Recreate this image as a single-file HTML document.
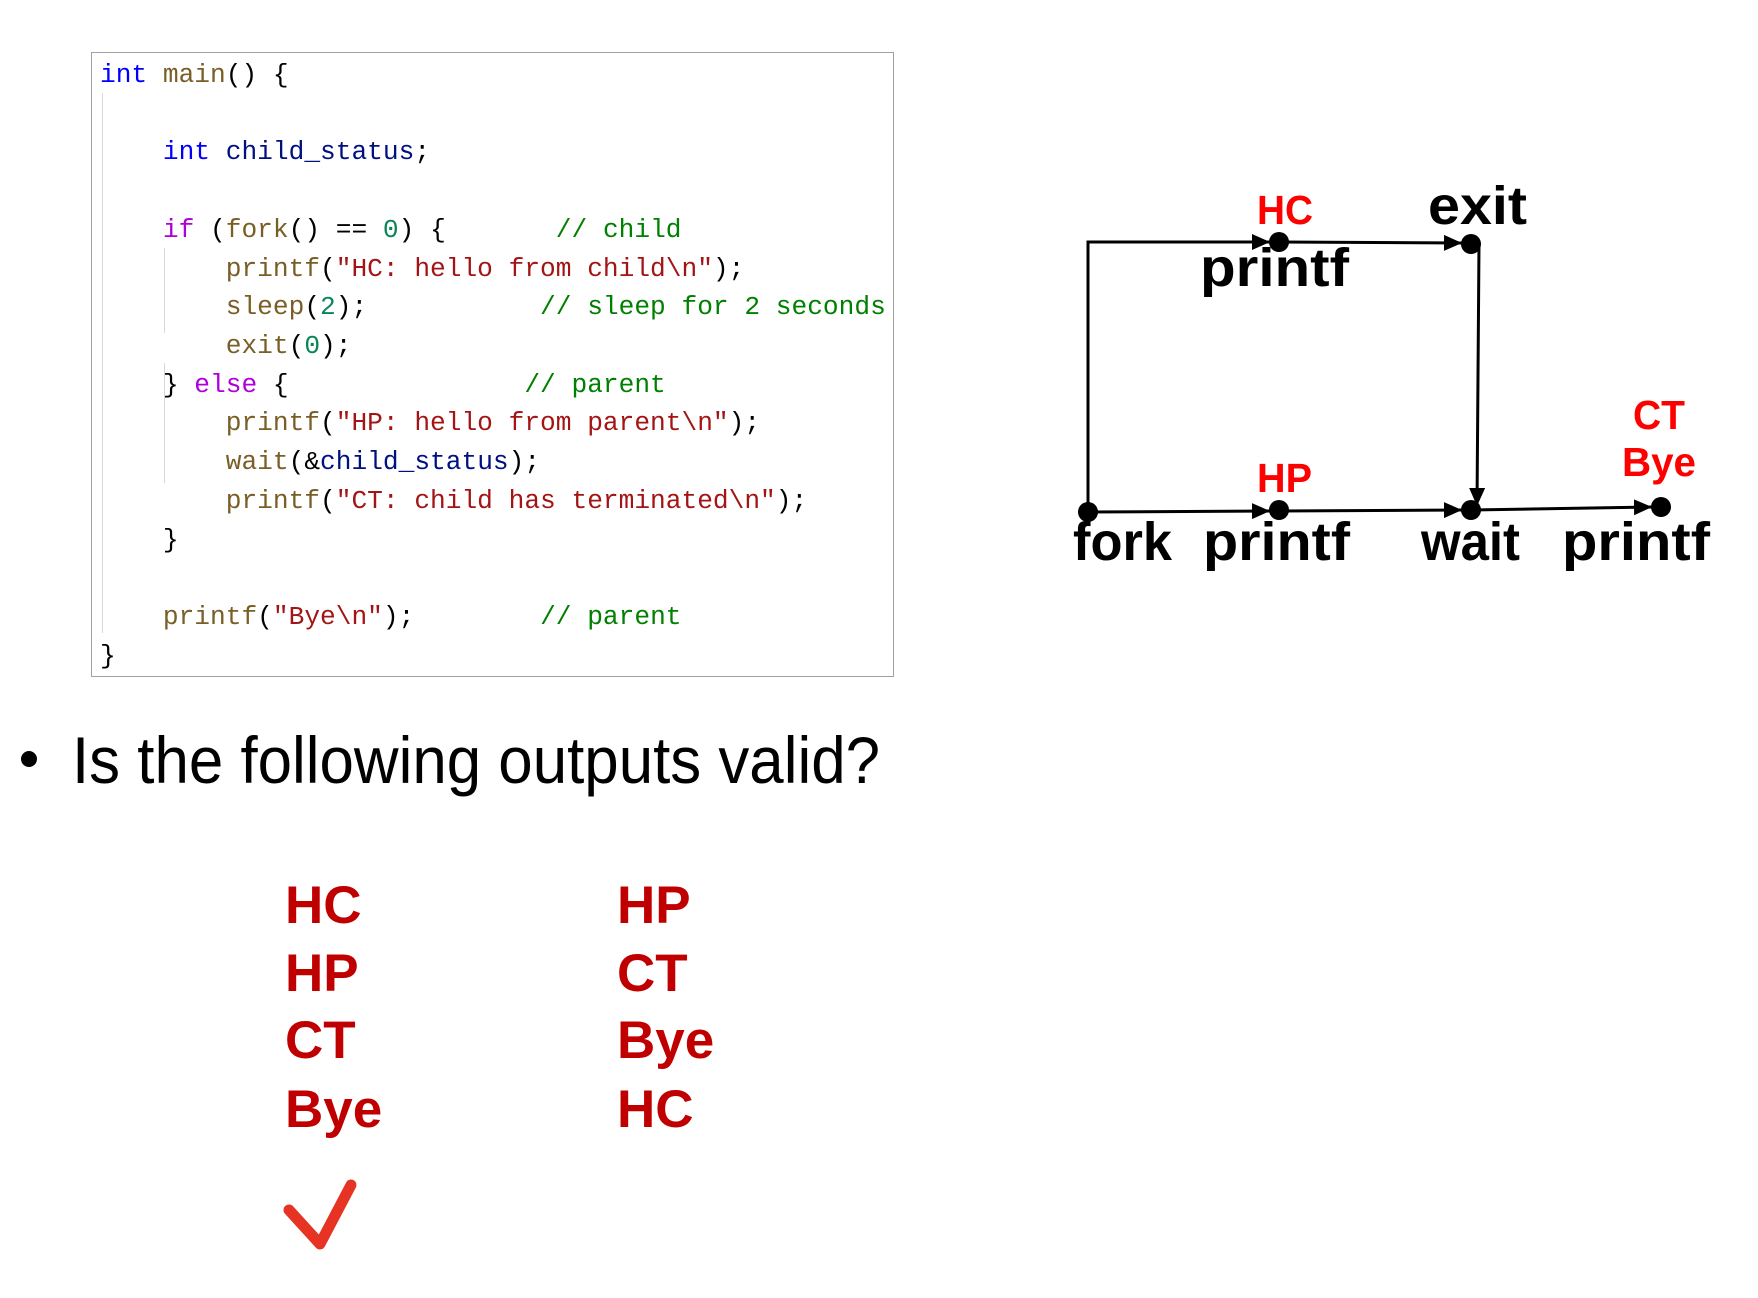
<!DOCTYPE html>
<html><head><meta charset="utf-8"><style>
html,body{margin:0;padding:0;background:#fff;}
body{width:1758px;height:1298px;position:relative;overflow:hidden;}
.code{position:absolute;left:91px;top:52px;width:803px;height:625px;border:1.5px solid #a0a0a0;box-sizing:border-box;}
.ln{position:absolute;left:8px;font-family:"Liberation Mono",monospace;font-size:26.2px;white-space:pre;line-height:30px;color:#000;}
.k{color:#0000ff}.f{color:#795e26}.s{color:#a31515}.c{color:#008000}.n{color:#098658}.p{color:#af00db}.v{color:#001080}
.g{position:absolute;width:1px;background:#d8d8d8;}
</style></head><body>
<div class="code">
<div class="g" style="left:10px;top:40px;height:540px"></div>
<div class="g" style="left:72px;top:195px;height:85px"></div>
<div class="g" style="left:72px;top:310px;height:120px"></div>
<div class="ln" style="top:7px"><span class="k">int</span> <span class="f">main</span>() {</div>
<div class="ln" style="top:84px">    <span class="k">int</span> <span class="v">child_status</span>;</div>
<div class="ln" style="top:162px">    <span class="p">if</span> (<span class="f">fork</span>() == <span class="n">0</span>) {       <span class="c">// child</span></div>
<div class="ln" style="top:201px">        <span class="f">printf</span>(<span class="s">"HC: hello from child\n"</span>);</div>
<div class="ln" style="top:239px">        <span class="f">sleep</span>(<span class="n">2</span>);           <span class="c">// sleep for 2 seconds</span></div>
<div class="ln" style="top:278px">        <span class="f">exit</span>(<span class="n">0</span>);</div>
<div class="ln" style="top:317px">    } <span class="p">else</span> {               <span class="c">// parent</span></div>
<div class="ln" style="top:355px">        <span class="f">printf</span>(<span class="s">"HP: hello from parent\n"</span>);</div>
<div class="ln" style="top:394px">        <span class="f">wait</span>(&amp;<span class="v">child_status</span>);</div>
<div class="ln" style="top:433px">        <span class="f">printf</span>(<span class="s">"CT: child has terminated\n"</span>);</div>
<div class="ln" style="top:472px">    }</div>
<div class="ln" style="top:549px">    <span class="f">printf</span>(<span class="s">"Bye\n"</span>);        <span class="c">// parent</span></div>
<div class="ln" style="top:588px">}</div>
</div>
<svg width="1758" height="1298" style="position:absolute;left:0;top:0">
<defs>
<marker id="b" markerWidth="18" markerHeight="16" refX="18" refY="8" orient="auto" markerUnits="userSpaceOnUse"><path d="M0,0 L18,8 L0,16 z" fill="#000"/></marker></defs>
<g stroke="#000" stroke-width="3" fill="none">
<path d="M1088,512 L1088,242 L1270,242" marker-end="url(#b)"/>
<path d="M1279,242 L1462,243" marker-end="url(#b)"/>
<path d="M1088,512 L1270,511" marker-end="url(#b)"/>
<path d="M1279,511 L1462,510" marker-end="url(#b)"/>
<path d="M1479,244 L1477,506" marker-end="url(#b)"/>
<path d="M1471,510 L1652,507" marker-end="url(#b)"/>
</g>
<g fill="#000"><circle cx="1088" cy="512" r="10"/><circle cx="1279" cy="242" r="10"/><circle cx="1471" cy="244" r="10"/><circle cx="1279" cy="510" r="10"/><circle cx="1471" cy="510" r="10"/><circle cx="1661" cy="507" r="10"/></g>
<g font-family="Liberation Sans, sans-serif" font-weight="bold" fill="#000" font-size="54">
<text x="1200" y="286" textLength="149" lengthAdjust="spacingAndGlyphs">printf</text>
<text x="1428" y="224" textLength="99" lengthAdjust="spacingAndGlyphs">exit</text>
<text x="1073" y="560" textLength="99" lengthAdjust="spacingAndGlyphs">fork</text>
<text x="1203" y="560" textLength="147" lengthAdjust="spacingAndGlyphs">printf</text>
<text x="1421" y="560" textLength="99" lengthAdjust="spacingAndGlyphs">wait</text>
<text x="1562" y="560" textLength="148" lengthAdjust="spacingAndGlyphs">printf</text>
</g>
<g font-family="Liberation Sans, sans-serif" font-weight="bold" fill="#ff0000" font-size="41">
<text x="1257" y="224" textLength="56" lengthAdjust="spacingAndGlyphs">HC</text>
<text x="1257" y="492" textLength="55" lengthAdjust="spacingAndGlyphs">HP</text>
<text x="1633" y="429" textLength="52" lengthAdjust="spacingAndGlyphs">CT</text>
<text x="1622" y="476" textLength="74" lengthAdjust="spacingAndGlyphs">Bye</text>
</g>
<circle cx="29" cy="759" r="8" fill="#000"/>
<text x="72" y="783" font-family="Liberation Sans, sans-serif" font-size="66" fill="#000" textLength="808" lengthAdjust="spacingAndGlyphs">Is the following outputs valid?</text>
<g font-family="Liberation Sans, sans-serif" font-weight="bold" fill="#c00000" font-size="53">
<text x="285" y="923">HC</text><text x="285" y="991">HP</text><text x="285" y="1058">CT</text><text x="285" y="1127">Bye</text>
<text x="617" y="923">HP</text><text x="617" y="991">CT</text><text x="617" y="1058">Bye</text><text x="617" y="1127">HC</text>
</g>
<path d="M289,1210 L320,1244 L351,1185" stroke="#e63323" stroke-width="11" fill="none" stroke-linecap="round" stroke-linejoin="round"/>
</svg>
</body></html>
